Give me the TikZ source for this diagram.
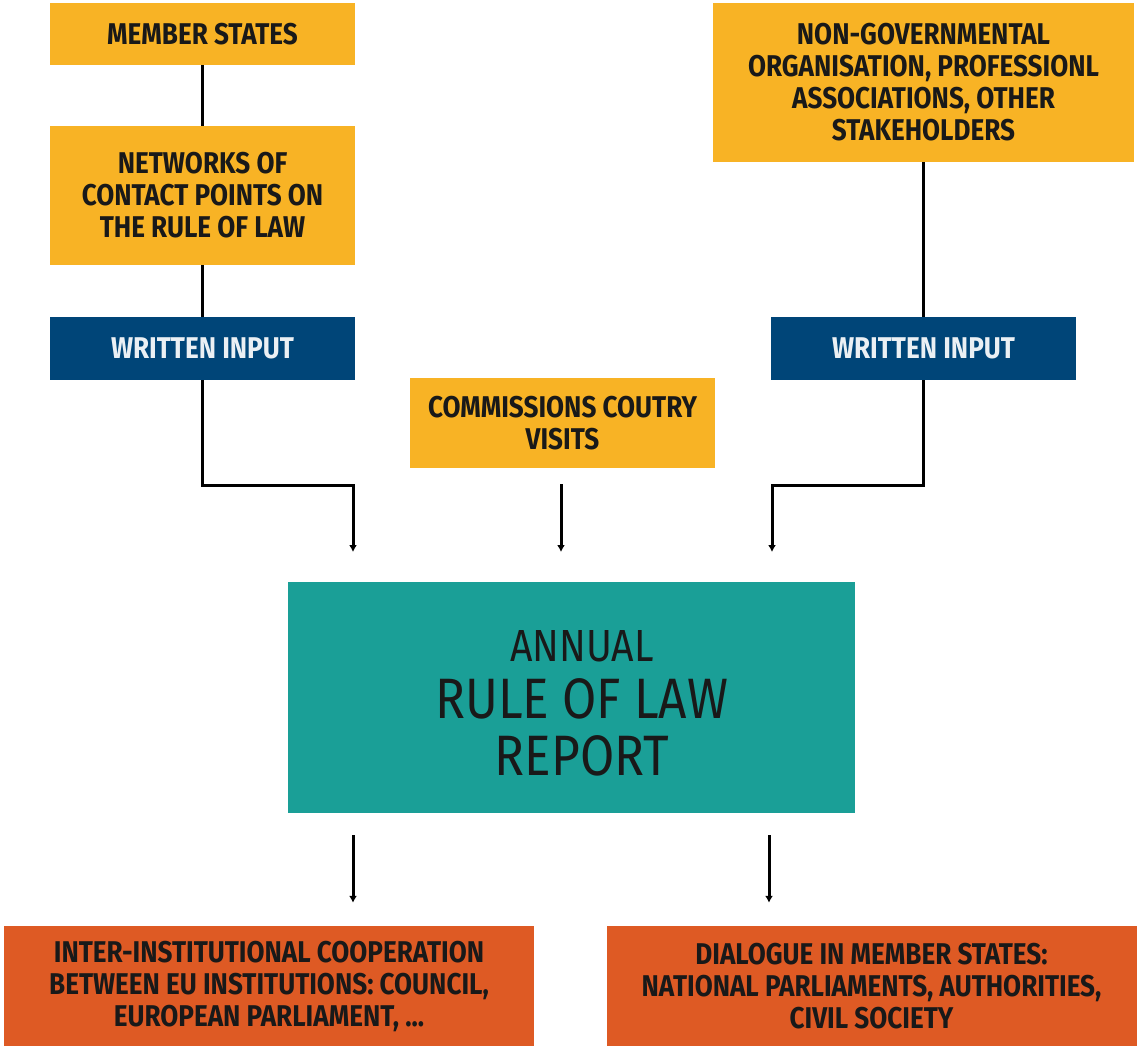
\documentclass[tikz,border=0pt]{standalone}
\usepackage{fontspec}
\setmainfont{Fira Sans}[FakeStretch=0.87]
\usepackage{tikz}
\usetikzlibrary{arrows.meta,positioning}

\definecolor{rolyellow}{HTML}{F8B325}
\definecolor{rolblue}{HTML}{004578}
\definecolor{rolteal}{HTML}{1A9F97}
\definecolor{rolorange}{HTML}{DE5A24}

\begin{document}
\begin{tikzpicture}[x=1pt,y=-1pt,
    box/.style={inner sep=0pt, align=center, font=\fontsize{30}{32}\selectfont\bfseries},
    yellowbox/.style={box, fill=rolyellow, text=black!90},
    bluebox/.style={box, fill=rolblue, text=white!92!rolblue, minimum width=305pt, minimum height=63pt},
    orangebox/.style={box, fill=rolorange, text=black!90, minimum width=530pt, minimum height=120pt},
    link/.style={line width=3pt},
    arr/.style={line width=3pt, -{Latex[length=7pt,width=8pt]}}]
  \useasboundingbox (0,0) rectangle (1139,1048);

  % left column
  \node[yellowbox, minimum width=305pt, minimum height=62pt] (member) at (202.5,34) {MEMBER STATES};
  \node[yellowbox, minimum width=305pt, minimum height=139pt] (network) at (202.5,195.5) {NETWORKS OF\\CONTACT POINTS ON\\THE RULE OF LAW};
  \node[bluebox] (inputL) at (202.5,348.5) {WRITTEN INPUT};

  % right column
  \node[yellowbox, minimum width=421pt, minimum height=159pt] (ngo) at (923.5,82.5) {NON-GOVERNMENTAL\\ORGANISATION, PROFESSIONL\\ASSOCIATIONS, OTHER\\STAKEHOLDERS};
  \node[bluebox] (inputR) at (923.5,348.5) {WRITTEN INPUT};

  % middle
  \node[yellowbox, minimum width=305pt, minimum height=90pt] (visit) at (562.5,423) {COMMISSIONS COUTRY\\VISITS};
  \node[fill=rolteal, minimum width=567pt, minimum height=231pt, inner sep=0pt, text=black!90] (report) at (571.5,697.5) {};
  \node[align=center, text=black!90, font=\fontsize{57}{57}\selectfont, inner sep=0pt] (title) at (582,703)
    {{\fontsize{45}{57}\selectfont ANNUAL}\\RULE OF LAW\\REPORT}; % title inside report

  % outputs
  \node[orangebox] (outL) at (269,986) {INTER-INSTITUTIONAL COOPERATION\\BETWEEN EU INSTITUTIONS: COUNCIL,\\EUROPEAN PARLIAMENT, ...};
  \node[orangebox] (outR) at (871.5,986) {DIALOGUE IN MEMBER STATES:\\NATIONAL PARLIAMENTS, AUTHORITIES,\\CIVIL SOCIETY};

  % arrow ends
  \coordinate (inL) at (353,552);
  \coordinate (inC) at (561,552);
  \coordinate (inR) at (772,552);

  % connectors
  \draw[link] (member) -- (network);
  \draw[link] (network) -- (inputL);
  \draw[link] (ngo) -- (inputR);
  \draw[arr] (inputL.south) -- ++(0,105) -| (inL);
  \draw[arr] (inputR.south) -- ++(0,105) -| (inR);
  \draw[arr, shorten <=16pt] (visit.south -| inC) -- (inC);
  \draw[arr, shorten <=22pt, shorten >=23pt] (report.south -| inL) -- (outL.north -| inL);
  \draw[arr, shorten <=22pt, shorten >=23pt] (report.south -| 769,0) -- (outR.north -| 769,0);
\end{tikzpicture}
\end{document}
